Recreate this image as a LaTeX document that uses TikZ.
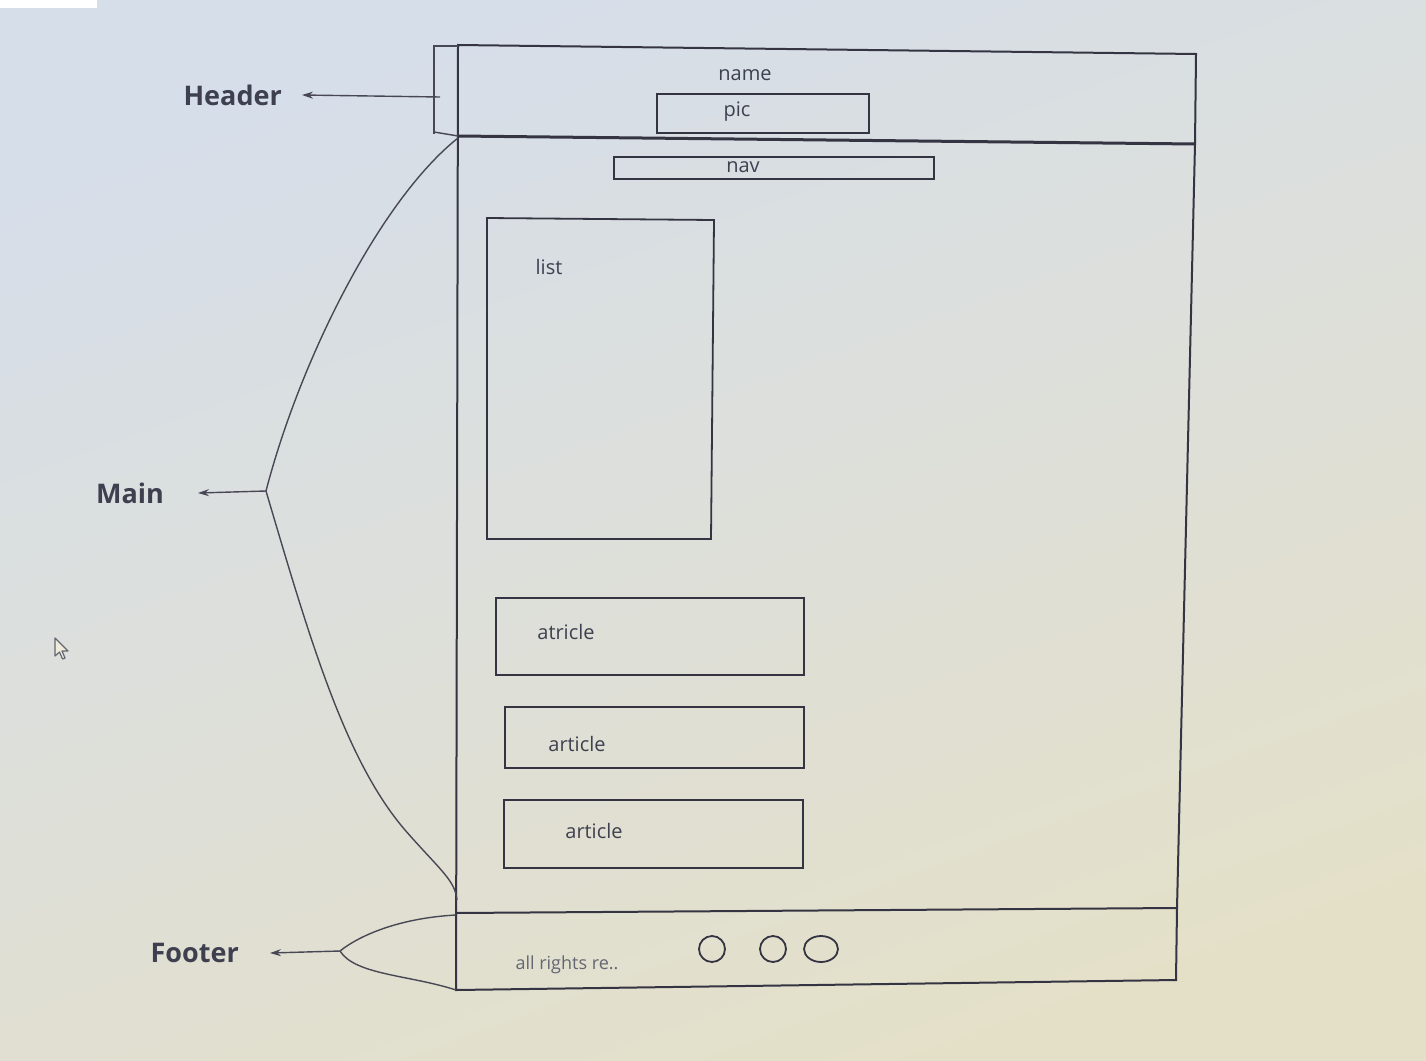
\documentclass[tikz,border=0pt]{standalone}
\usepackage{fontspec}
\setmainfont{Open Sans}
\usetikzlibrary{arrows.meta}
\definecolor{bgA}{RGB}{214,222,234}
\definecolor{bgB}{RGB}{228,224,200}
\definecolor{ink}{RGB}{52,52,66}
\definecolor{txt}{RGB}{62,64,80}
\definecolor{soft}{RGB}{100,102,115}
\tikzset{
  frame/.style={draw=ink, line width=2pt},
  box/.style={draw=ink, line width=1.8pt},
  brace/.style={draw=ink!90, line width=1.4pt},
  lbl/.style={font=\fontsize{27}{31}\selectfont\bfseries, text=txt},
  wtxt/.style={font=\fontsize{20}{24}\selectfont, text=txt, inner sep=0pt},
  ftxt/.style={font=\fontsize{18}{22}\selectfont, text=soft, inner sep=0pt},
  arr/.style={brace, -{Stealth[length=11pt,width=7pt]}},
}
\begin{document}
\begin{tikzpicture}[x=1pt,y=-1pt]
\useasboundingbox (0,0) rectangle (1426,1060);
\shade[top color=bgA, bottom color=bgB, shading angle=20] (0,0) rectangle (1426,1060);
\fill[white] (0,0) rectangle (97,8);

% page outline
\draw[frame] (458,45) -- (1196,54) -- (1195,144) -- (1177,908) -- (1176,980) -- (456,990) -- cycle;
\draw[ink, line width=3pt] (458,136) -- (1195,144);
\draw[frame] (456,913) -- (1177,908);

% header content
\node[wtxt] (name) at (745,75) {name};
\draw[box] (657,94) rectangle (869,133);
\node[wtxt] (pic) at (737,112) {pic};
\draw[box] (614,157) rectangle (934,179);
\node[wtxt] (nav) at (743,167) {nav};

% list
\draw[box] (487,218) -- (714,220) -- (711,539) -- (487,539) -- cycle;
\node[wtxt] (list) at (549,267) {list};

% articles
\draw[box] (496,598) rectangle (804,675);
\node[wtxt] (a1) at (566,632) {atricle};
\draw[box] (505,707) rectangle (804,768);
\node[wtxt] (a2) at (577,744) {article};
\draw[box] (504,800) rectangle (803,868);
\node[wtxt] (a3) at (594,831) {article};

% footer content
\node[ftxt] (rights) at (567,965) {all rights re..};
\draw[ink, line width=1.8pt] (712,949) circle (13);
\draw[ink, line width=1.8pt] (773,949) circle (13);
\draw[ink, line width=1.8pt] (821,949) ellipse (17 and 13);

% header bracket
\draw[brace, line width=1.6pt] (458,46) -- (434,46) -- (434,134);
\draw[brace] (434,132) -- (458,136);
\coordinate (htip) at (440,97);
\node[lbl, inner xsep=20pt, anchor=east] (hdr) at (302,95) {Header};
\draw[arr] (htip) -- (hdr.east);

% main brace
\coordinate (mtip) at (266,491);
\draw[brace] (458,138) .. controls (380,200) and (300,360) .. (mtip);
\draw[brace] (mtip) .. controls (310,640) and (345,760) .. (405,830) .. controls (440,870) and (455,880) .. (457,900);
\node[lbl, inner xsep=34pt, anchor=east] (mainl) at (198,493) {Main};
\draw[arr] (mtip) -- (mainl.east);

% footer brace
\coordinate (ftip) at (340,951);
\draw[brace] (456,915) .. controls (400,918) and (360,935) .. (ftip);
\draw[brace] (ftip) .. controls (355,975) and (410,975) .. (456,990);
\node[lbl, inner xsep=31pt, anchor=east] (ftr) at (270,953) {Footer};
\draw[arr] (ftip) -- (ftr.east);

% mouse pointer
\draw[soft, line width=1.2pt, fill=bgB!60!white, line join=round]
  (55,638) -- (55,656) -- (59.5,652) -- (62.5,659) -- (65,658) -- (62,651) -- (68,651) -- cycle;
\end{tikzpicture}
\end{document}
